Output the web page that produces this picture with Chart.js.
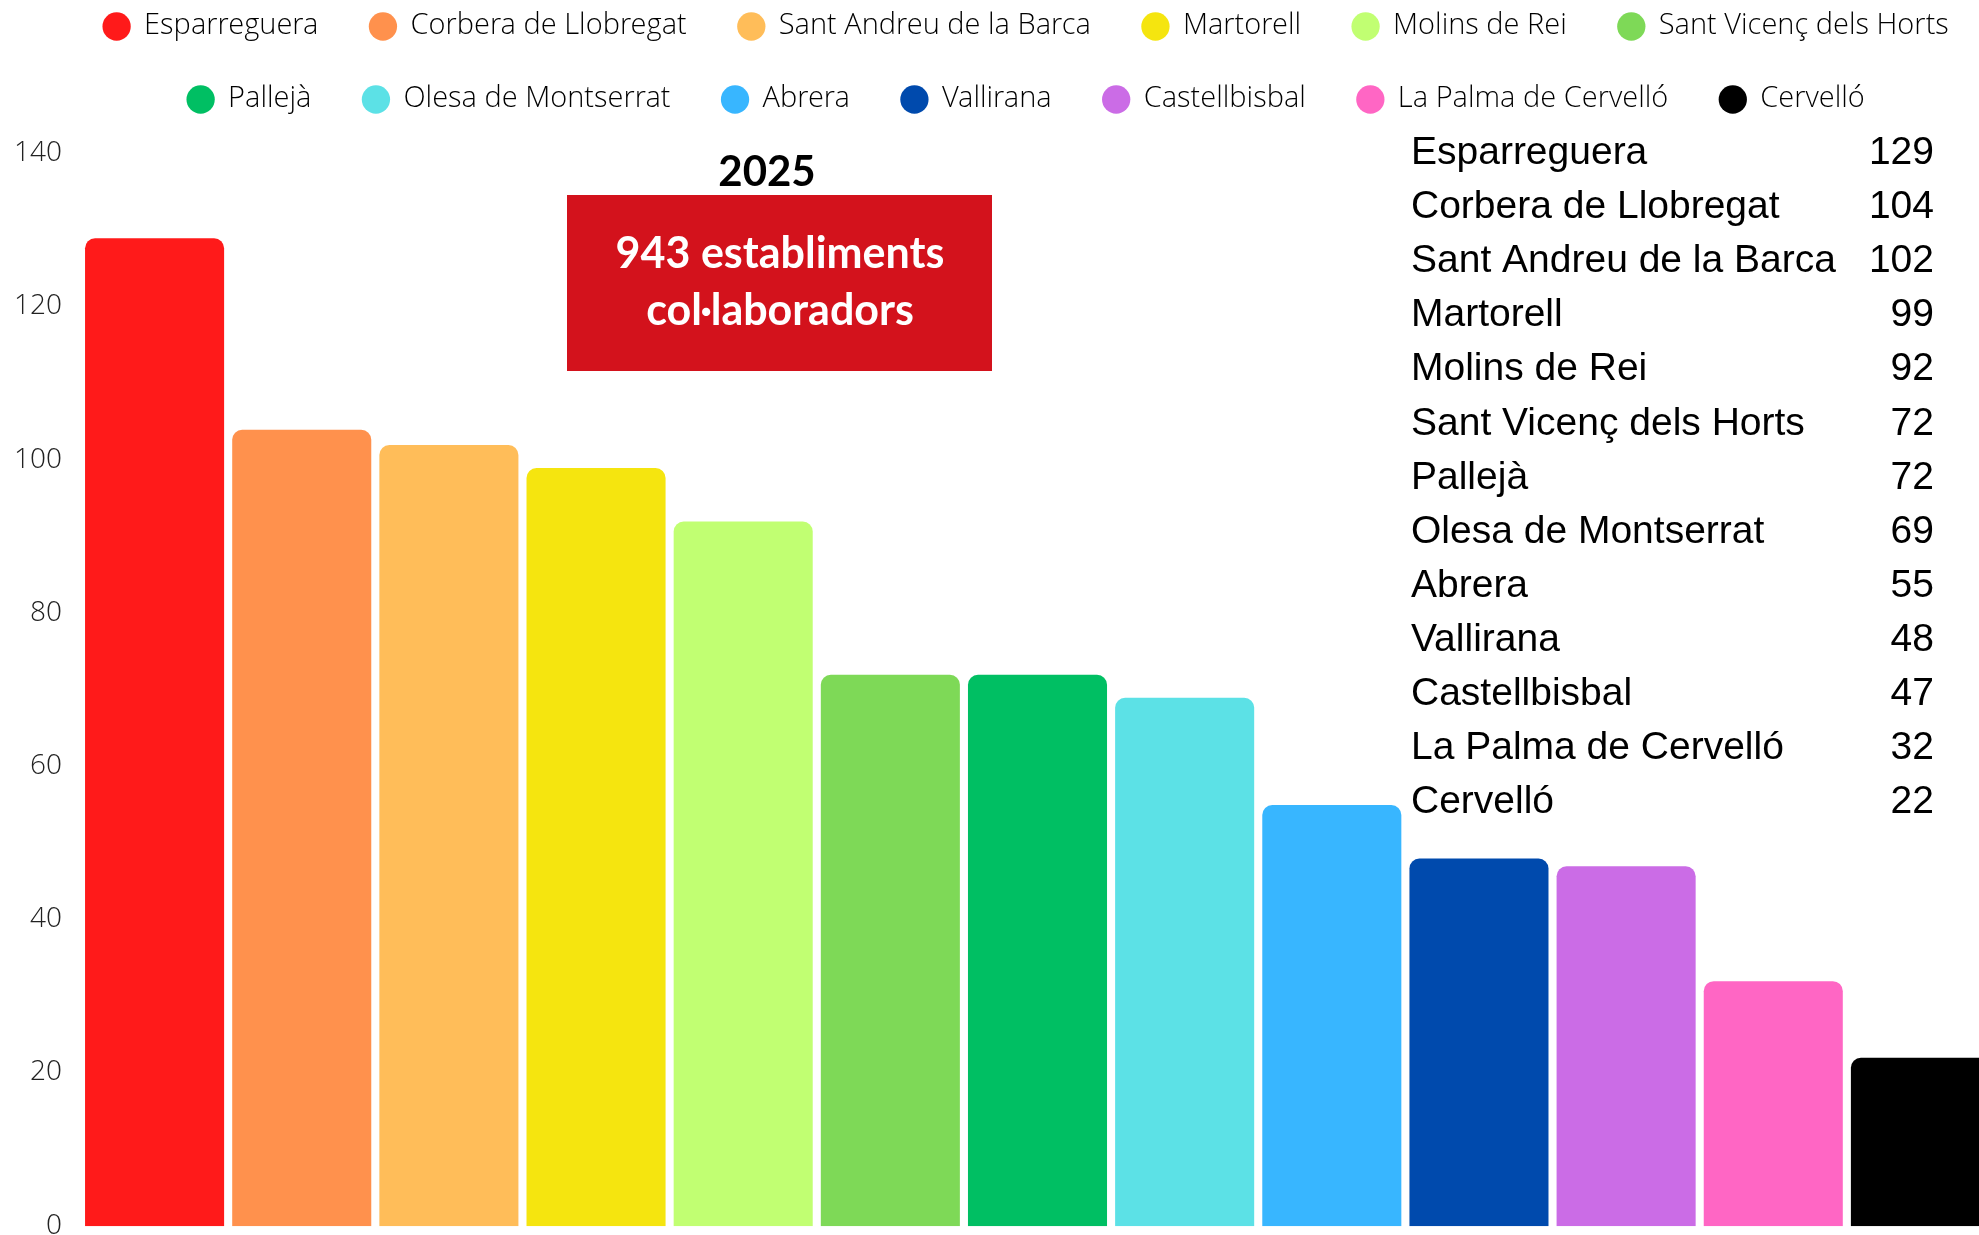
<!DOCTYPE html>
<html>
<head>
<meta charset="utf-8">
<script src="https://cdn.jsdelivr.net/npm/chart.js@4.4.1/dist/chart.umd.min.js"></script>
<style>
  html, body { margin: 0; padding: 0; background: #fff; overflow: hidden; }
  #wrap { position: relative; width: 2060px; height: 1294px; margin-top: -32px; }
</style>
</head>
<body>
<div id="wrap"><canvas id="chart"></canvas></div>
<script>
const municipalities = [
  'Esparreguera', 'Corbera de Llobregat', 'Sant Andreu de la Barca', 'Martorell',
  'Molins de Rei', 'Sant Vicenç dels Horts', 'Pallejà', 'Olesa de Montserrat',
  'Abrera', 'Vallirana', 'Castellbisbal', 'La Palma de Cervelló', 'Cervelló'
];
const establishments = [129, 104, 102, 99, 92, 72, 72, 69, 55, 48, 47, 32, 22];
const barColors = [
  '#FF1A1A', '#FF914D', '#FFBD59', '#F5E50F', '#C1FF72', '#7ED957', '#00BF63',
  '#5CE1E6', '#38B6FF', '#004AAD', '#CB6CE6', '#FF66C4', '#000000'
];
const yearLabel = '2025';
const total = establishments.reduce((a, b) => a + b, 0);
const boxLines = [total + ' establiments', 'col·laboradors'];

const lightFont = '"Open Sans Light", "Open Sans", sans-serif';

// texts drawn on top: year, red box, list at the right
const overlay = {
  id: 'overlay',
  afterDraw(chart) {
    const ctx = chart.ctx;
    ctx.save();
    ctx.fillStyle = '#000';
    ctx.font = 'bold 42px Lato';
    ctx.textAlign = 'center';
    ctx.textBaseline = 'alphabetic';
    ctx.fillText(yearLabel, 767, 218);

    ctx.fillStyle = '#D3121C';
    ctx.fillRect(567, 227, 425, 176);
    ctx.fillStyle = '#fff';
    ctx.font = 'bold 43px Lato';
    ctx.fillText(boxLines[0], 780, 300);
    ctx.fillText(boxLines[1], 780, 357);

    ctx.fillStyle = '#000';
    ctx.font = '39px "Liberation Sans"';
    municipalities.forEach((name, i) => {
      const y = 196 + i * 54.1;
      ctx.textAlign = 'left';
      ctx.fillText(name, 1411, y);
      ctx.textAlign = 'right';
      ctx.fillText(String(establishments[i]), 1934, y);
    });
    ctx.restore();
  }
};

new Chart(document.getElementById('chart'), {
  type: 'bar',
  data: {
    labels: municipalities,
    datasets: [{
      label: yearLabel,
      data: establishments,
      backgroundColor: barColors,
      borderRadius: 10,
      barPercentage: 0.945,
      categoryPercentage: 1
    }]
  },
  options: {
    responsive: true,
    maintainAspectRatio: false,
    animation: false,
    layout: { padding: 0 },
    plugins: {
      tooltip: { enabled: false },
      legend: {
        position: 'top',
        onClick: null,
        labels: {
          usePointStyle: true,
          boxWidth: 26,
          boxHeight: 20,
          padding: 44,
          color: '#1a1a1a',
          font: { family: lightFont, size: 29, weight: '300' },
          generateLabels: () => municipalities.map((name, i) => ({
            text: name + ' ',
            fillStyle: barColors[i],
            strokeStyle: barColors[i],
            lineWidth: 0,
            pointStyle: 'circle',
            hidden: false,
            index: i
          }))
        }
      },
      title: {
        display: true,
        text: '',
        weight: 500,
        padding: 0,
        font: { size: 30, lineHeight: 1 }
      }
    },
    scales: {
      x: {
        display: false
      },
      y: {
        min: 0,
        max: 140,
        ticks: {
          stepSize: 20,
          padding: 19,
          color: '#222',
          font: { family: lightFont, size: 28, weight: '300' }
        },
        grid: { display: false, drawTicks: false },
        border: { display: false },
        afterFit: (scale) => { scale.width = 81; }
      },
      yRight: {
        position: 'right',
        ticks: { display: false },
        grid: { display: false, drawTicks: false },
        border: { display: false },
        afterFit: (scale) => { scale.width = 66; }
      }
    }
  },
  plugins: [overlay]
});
</script>
</body>
</html>
